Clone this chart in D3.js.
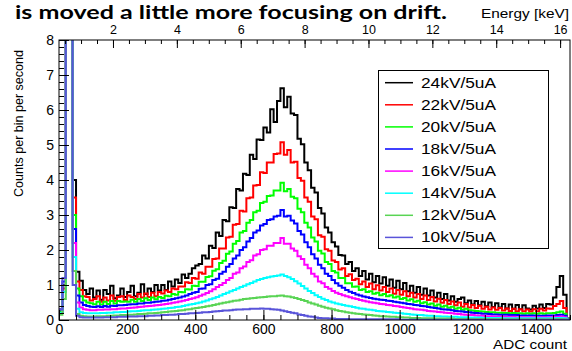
<!DOCTYPE html>
<html>
<head>
<meta charset="utf-8">
<script src="https://cdn.jsdelivr.net/npm/d3@7"></script>
<style>
  body { margin: 0; background: #fff; }
  svg { display: block; }
  text { font-family: "Liberation Sans", Arial, Helvetica, sans-serif; fill: #000; }
</style>
</head>
<body>
<svg id="chart" width="572" height="351"></svg>
<script>
// Spectra: counts per bin per second, 150 bins of 10 ADC counts from 0 to 1500.
const adcBinWidth = 10;

const counts24kV = [
  0.2, 1.0, 40, 40, 4.0, 1.38, 1.12, 0.86, 0.74, 0.9,
  0.64, 0.84, 0.58, 0.86, 0.74, 0.98, 0.62, 0.7, 0.9, 0.66,
  0.8, 0.98, 0.68, 0.78, 1.02, 0.74, 0.9, 0.8, 1.0, 0.84,
  1.0, 0.86, 1.1, 0.96, 1.16, 1.06, 1.3, 1.2, 1.32, 1.48,
  1.56, 1.6, 1.84, 1.76, 2.12, 2.06, 2.5, 2.4, 2.86, 2.82,
  3.22, 3.2, 3.74, 3.7, 4.18, 4.14, 4.72, 4.6, 5.16, 5.14,
  5.5, 5.36, 6.02, 5.66, 6.26, 6.62, 6.08, 6.38, 5.9, 5.86,
  5.18, 5.02, 4.5, 4.28, 3.78, 3.64, 3.2, 3.04, 2.64, 2.5,
  2.22, 2.1, 1.86, 1.84, 1.6, 1.66, 1.4, 1.48, 1.26, 1.4,
  1.16, 1.32, 1.08, 1.26, 1.04, 1.22, 0.98, 1.16, 0.92, 1.12,
  0.88, 1.06, 0.82, 0.98, 0.78, 0.94, 0.72, 0.9, 0.7, 0.84,
  0.64, 0.78, 0.6, 0.74, 0.56, 0.68, 0.52, 0.6, 0.64, 0.48,
  0.56, 0.44, 0.54, 0.42, 0.52, 0.39, 0.5, 0.37, 0.48, 0.36,
  0.46, 0.33, 0.44, 0.32, 0.43, 0.31, 0.42, 0.33, 0.3, 0.41,
  0.33, 0.44, 0.34, 0.46, 0.44, 0.64, 0.94, 1.26, 0.72, 0.04
];
const counts22kV = [
  0.3, 0.9, 40, 40, 3.5, 1.1, 0.86, 0.68, 0.66, 0.56,
  0.6, 0.68, 0.52, 0.64, 0.56, 0.7, 0.55, 0.66, 0.68, 0.57,
  0.7, 0.66, 0.6, 0.74, 0.64, 0.76, 0.66, 0.78, 0.68, 0.8,
  0.76, 0.84, 0.8, 0.9, 0.88, 0.96, 0.96, 1.08, 1.06, 1.2,
  1.18, 1.36, 1.32, 1.52, 1.52, 1.74, 1.76, 2.04, 2.04, 2.36,
  2.38, 2.72, 2.74, 3.12, 3.1, 3.48, 3.5, 3.84, 3.86, 4.22,
  4.2, 4.5, 4.5, 4.74, 4.76, 5.08, 4.72, 4.86, 4.5, 4.52,
  4.06, 3.98, 3.5, 3.38, 2.96, 2.88, 2.42, 2.38, 2.02, 1.98,
  1.7, 1.66, 1.44, 1.48, 1.26, 1.31, 1.14, 1.18, 1.02, 1.1,
  0.94, 1.04, 0.88, 0.99, 0.84, 0.94, 0.8, 0.9, 0.75, 0.86,
  0.72, 0.82, 0.68, 0.78, 0.64, 0.74, 0.6, 0.7, 0.57, 0.66,
  0.53, 0.61, 0.49, 0.57, 0.46, 0.53, 0.42, 0.5, 0.38, 0.46,
  0.36, 0.43, 0.34, 0.41, 0.32, 0.38, 0.3, 0.36, 0.29, 0.34,
  0.27, 0.33, 0.26, 0.32, 0.25, 0.31, 0.25, 0.3, 0.24, 0.31,
  0.25, 0.32, 0.27, 0.33, 0.32, 0.4, 0.46, 0.54, 0.34, 0.03
];
const counts20kV = [
  0.25, 0.8, 40, 40, 3.0, 0.9, 0.68, 0.56, 0.5, 0.48,
  0.45, 0.52, 0.44, 0.52, 0.46, 0.54, 0.47, 0.54, 0.52, 0.53,
  0.52, 0.58, 0.52, 0.6, 0.54, 0.62, 0.57, 0.64, 0.59, 0.66,
  0.63, 0.69, 0.68, 0.74, 0.72, 0.8, 0.79, 0.88, 0.87, 0.98,
  0.97, 1.09, 1.09, 1.23, 1.25, 1.41, 1.45, 1.63, 1.69, 1.89,
  1.96, 2.18, 2.26, 2.5, 2.54, 2.78, 2.86, 3.08, 3.12, 3.34,
  3.38, 3.54, 3.56, 3.7, 3.7, 3.92, 3.68, 3.74, 3.52, 3.48,
  3.18, 3.08, 2.78, 2.64, 2.36, 2.24, 1.98, 1.9, 1.66, 1.6,
  1.4, 1.36, 1.2, 1.2, 1.05, 1.05, 0.95, 0.96, 0.86, 0.88,
  0.8, 0.82, 0.75, 0.78, 0.71, 0.74, 0.68, 0.71, 0.64, 0.67,
  0.6, 0.63, 0.56, 0.59, 0.52, 0.55, 0.48, 0.51, 0.44, 0.47,
  0.41, 0.44, 0.38, 0.41, 0.35, 0.38, 0.32, 0.35, 0.29, 0.32,
  0.28, 0.27, 0.26, 0.25, 0.24, 0.23, 0.22, 0.22, 0.21, 0.21,
  0.2, 0.2, 0.19, 0.2, 0.19, 0.19, 0.18, 0.19, 0.18, 0.19,
  0.18, 0.19, 0.18, 0.19, 0.19, 0.2, 0.22, 0.24, 0.18, 0.02
];
const counts18kV = [
  0.3, 1.1, 40, 40, 2.6, 0.7, 0.5, 0.43, 0.4, 0.38,
  0.37, 0.39, 0.37, 0.4, 0.38, 0.41, 0.4, 0.42, 0.42, 0.43,
  0.44, 0.45, 0.45, 0.47, 0.47, 0.49, 0.49, 0.51, 0.52, 0.53,
  0.55, 0.56, 0.58, 0.6, 0.62, 0.64, 0.67, 0.7, 0.74, 0.78,
  0.8, 0.89, 0.9, 1.0, 1.02, 1.14, 1.18, 1.32, 1.38, 1.52,
  1.6, 1.76, 1.84, 2.0, 2.08, 2.24, 2.34, 2.5, 2.56, 2.7,
  2.74, 2.86, 2.88, 2.96, 2.98, 3.14, 2.96, 2.98, 2.84, 2.76,
  2.54, 2.44, 2.22, 2.08, 1.88, 1.76, 1.58, 1.48, 1.32, 1.26,
  1.14, 1.05, 0.98, 0.92, 0.86, 0.81, 0.77, 0.73, 0.7, 0.67,
  0.65, 0.63, 0.61, 0.59, 0.58, 0.57, 0.55, 0.54, 0.52, 0.51,
  0.49, 0.48, 0.46, 0.45, 0.43, 0.42, 0.4, 0.39, 0.37, 0.36,
  0.34, 0.33, 0.31, 0.3, 0.29, 0.28, 0.26, 0.25, 0.24, 0.23,
  0.22, 0.21, 0.2, 0.19, 0.18, 0.18, 0.17, 0.16, 0.16, 0.15,
  0.15, 0.15, 0.14, 0.14, 0.14, 0.13, 0.13, 0.13, 0.13, 0.13,
  0.12, 0.12, 0.12, 0.13, 0.13, 0.13, 0.14, 0.15, 0.12, 0.02
];
const counts16kV = [
  0.2, 0.8, 40, 40, 2.2, 0.5, 0.36, 0.31, 0.29, 0.28,
  0.28, 0.29, 0.29, 0.3, 0.3, 0.31, 0.31, 0.32, 0.33, 0.33,
  0.34, 0.35, 0.36, 0.37, 0.38, 0.39, 0.4, 0.41, 0.42, 0.43,
  0.44, 0.46, 0.47, 0.49, 0.51, 0.53, 0.55, 0.57, 0.6, 0.62,
  0.65, 0.69, 0.73, 0.77, 0.82, 0.88, 0.94, 1.0, 1.06, 1.14,
  1.2, 1.32, 1.36, 1.48, 1.53, 1.66, 1.71, 1.84, 1.88, 2.0,
  2.02, 2.12, 2.12, 2.2, 2.2, 2.34, 2.18, 2.18, 2.04, 1.98,
  1.82, 1.74, 1.58, 1.48, 1.32, 1.24, 1.1, 1.05, 0.94, 0.89,
  0.83, 0.78, 0.74, 0.71, 0.68, 0.65, 0.62, 0.6, 0.57, 0.55,
  0.53, 0.51, 0.49, 0.48, 0.46, 0.45, 0.43, 0.42, 0.4, 0.39,
  0.37, 0.36, 0.34, 0.33, 0.31, 0.3, 0.29, 0.28, 0.26, 0.25,
  0.24, 0.23, 0.22, 0.21, 0.2, 0.19, 0.18, 0.17, 0.16, 0.15,
  0.14, 0.14, 0.13, 0.12, 0.12, 0.11, 0.11, 0.1, 0.1, 0.1,
  0.09, 0.09, 0.09, 0.09, 0.08, 0.08, 0.08, 0.08, 0.08, 0.08,
  0.08, 0.08, 0.08, 0.08, 0.08, 0.09, 0.09, 0.1, 0.08, 0.01
];
const counts14kV = [
  0.2, 0.8, 40, 40, 1.8, 0.32, 0.22, 0.2, 0.19, 0.19,
  0.19, 0.19, 0.2, 0.2, 0.21, 0.21, 0.22, 0.22, 0.23, 0.23,
  0.24, 0.25, 0.25, 0.26, 0.27, 0.28, 0.28, 0.29, 0.3, 0.31,
  0.32, 0.33, 0.34, 0.35, 0.37, 0.38, 0.4, 0.42, 0.44, 0.46,
  0.48, 0.5, 0.53, 0.56, 0.59, 0.62, 0.66, 0.7, 0.74, 0.78,
  0.82, 0.86, 0.9, 0.94, 0.98, 1.02, 1.06, 1.1, 1.14, 1.17,
  1.2, 1.22, 1.24, 1.26, 1.27, 1.3, 1.26, 1.22, 1.17, 1.11,
  1.04, 0.97, 0.9, 0.83, 0.77, 0.71, 0.66, 0.61, 0.57, 0.53,
  0.5, 0.47, 0.45, 0.43, 0.41, 0.39, 0.37, 0.35, 0.33, 0.32,
  0.3, 0.29, 0.28, 0.26, 0.25, 0.24, 0.23, 0.22, 0.21, 0.2,
  0.19, 0.18, 0.17, 0.16, 0.15, 0.14, 0.14, 0.13, 0.12, 0.12,
  0.11, 0.11, 0.1, 0.1, 0.09, 0.09, 0.09, 0.08, 0.08, 0.08,
  0.07, 0.07, 0.07, 0.07, 0.06, 0.06, 0.06, 0.06, 0.06, 0.06,
  0.05, 0.05, 0.05, 0.05, 0.05, 0.05, 0.05, 0.05, 0.05, 0.05,
  0.05, 0.05, 0.05, 0.05, 0.05, 0.05, 0.06, 0.06, 0.05, 0.01
];
const counts12kV = [
  0.15, 0.6, 40, 40, 1.4, 0.17, 0.12, 0.11, 0.1, 0.1,
  0.1, 0.11, 0.11, 0.11, 0.12, 0.12, 0.13, 0.13, 0.14, 0.14,
  0.15, 0.15, 0.16, 0.17, 0.17, 0.18, 0.19, 0.19, 0.2, 0.21,
  0.22, 0.23, 0.24, 0.25, 0.26, 0.27, 0.28, 0.3, 0.31, 0.33,
  0.34, 0.36, 0.37, 0.39, 0.41, 0.43, 0.45, 0.47, 0.49, 0.51,
  0.53, 0.55, 0.56, 0.58, 0.6, 0.61, 0.62, 0.63, 0.64, 0.65,
  0.66, 0.67, 0.68, 0.68, 0.69, 0.7, 0.68, 0.67, 0.65, 0.63,
  0.6, 0.57, 0.54, 0.5, 0.47, 0.44, 0.41, 0.38, 0.35, 0.33,
  0.31, 0.28, 0.26, 0.24, 0.22, 0.21, 0.19, 0.18, 0.17, 0.16,
  0.15, 0.14, 0.13, 0.12, 0.11, 0.11, 0.1, 0.09, 0.09, 0.08,
  0.08, 0.07, 0.07, 0.06, 0.06, 0.06, 0.05, 0.05, 0.05, 0.05,
  0.04, 0.04, 0.04, 0.04, 0.04, 0.04, 0.03, 0.03, 0.03, 0.03,
  0.03, 0.03, 0.03, 0.03, 0.03, 0.03, 0.03, 0.03, 0.03, 0.03,
  0.02, 0.02, 0.02, 0.02, 0.02, 0.02, 0.02, 0.02, 0.02, 0.02,
  0.02, 0.02, 0.02, 0.02, 0.02, 0.02, 0.03, 0.03, 0.02, 0.01
];
const counts10kV = [
  0.3, 1.2, 40, 40, 1.0, 0.12, 0.08, 0.07, 0.07, 0.07,
  0.07, 0.07, 0.07, 0.08, 0.08, 0.08, 0.08, 0.09, 0.09, 0.09,
  0.1, 0.1, 0.1, 0.11, 0.11, 0.11, 0.12, 0.12, 0.13, 0.13,
  0.14, 0.14, 0.15, 0.15, 0.16, 0.17, 0.17, 0.18, 0.19, 0.19,
  0.2, 0.21, 0.22, 0.22, 0.23, 0.24, 0.25, 0.26, 0.27, 0.27,
  0.28, 0.29, 0.3, 0.3, 0.31, 0.31, 0.32, 0.32, 0.32, 0.33,
  0.32, 0.32, 0.31, 0.3, 0.29, 0.27, 0.25, 0.23, 0.21, 0.19,
  0.16, 0.14, 0.12, 0.1, 0.09, 0.07, 0.06, 0.05, 0.05, 0.04,
  0.04, 0.03, 0.03, 0.03, 0.03, 0.02, 0.02, 0.02, 0.02, 0.02,
  0.02, 0.02, 0.02, 0.02, 0.02, 0.02, 0.02, 0.02, 0.02, 0.02,
  0.01, 0.01, 0.01, 0.01, 0.01, 0.01, 0.01, 0.01, 0.01, 0.01,
  0.01, 0.01, 0.01, 0.01, 0.01, 0.01, 0.01, 0.01, 0.01, 0.01,
  0.01, 0.01, 0.01, 0.01, 0.01, 0.01, 0.01, 0.01, 0.01, 0.01,
  0.01, 0.01, 0.01, 0.01, 0.01, 0.01, 0.01, 0.01, 0.01, 0.01,
  0.01, 0.01, 0.01, 0.01, 0.01, 0.01, 0.01, 0.01, 0.01, 0.0
];

const seriesLabels = ["24kV/5uA", "22kV/5uA", "20kV/5uA", "18kV/5uA",
                      "16kV/5uA", "14kV/5uA", "12kV/5uA", "10kV/5uA"];
const seriesCounts = [counts24kV, counts22kV, counts20kV, counts18kV,
                      counts16kV, counts14kV, counts12kV, counts10kV];

const adcTicks = [0, 200, 400, 600, 800, 1000, 1200, 1400];
const adcMinorTicks = d3.range(0, 1501, 50);
const energyTicks = [2, 4, 6, 8, 10, 12, 14, 16];
const energyMinorTicks = d3.range(0.5, 16.31, 0.5);
const countTicks = [0, 1, 2, 3, 4, 5, 6, 7, 8];
const countMinorTicks = d3.range(0, 8.01, 0.2);

// Energy calibration shown on the top axis, keV at the two ends of the ADC range
const energyRange = [0.31, 16.31];

// ---- styles ----
const lineColors = ["#000000", "#ff0000", "#00ff00", "#0000ff",
                    "#ff00ff", "#00ffff", "#59d454", "#5954d9"];
const frame = { left: 59, right: 570, top: 40, bottom: 320 };

const svg = d3.select("#chart");

const x = d3.scaleLinear().domain([0, 1500]).range([frame.left, frame.right]);
const xE = d3.scaleLinear().domain(energyRange).range([frame.left, frame.right]);
const y = d3.scaleLinear().domain([0, 8]).range([frame.bottom, frame.top]);

// Title line above the frame
svg.append("text")
  .attr("x", 15).attr("y", 19)
  .attr("textLength", 432).attr("lengthAdjust", "spacingAndGlyphs")
  .style("font-family", "Lato, 'Open Sans', sans-serif")
  .style("font-weight", "bold").style("font-size", "19px")
  .text("is moved a little more focusing on drift.");

svg.append("rect")
  .attr("x", frame.left).attr("y", frame.top)
  .attr("width", frame.right - frame.left).attr("height", frame.bottom - frame.top)
  .attr("fill", "#fff");

svg.append("clipPath").attr("id", "plotClip")
  .append("rect")
  .attr("x", frame.left).attr("y", frame.top)
  .attr("width", frame.right - frame.left).attr("height", frame.bottom - frame.top);

// Histograms drawn as step outlines
const stepLine = d3.line()
  .x(d => x(d[0]))
  .y(d => y(d[1]))
  .curve(d3.curveStepAfter);

const plot = svg.append("g").attr("clip-path", "url(#plotClip)");
seriesCounts.forEach((vals, k) => {
  const pts = vals.map((v, i) => [i * adcBinWidth, v]);
  pts.push([vals.length * adcBinWidth, vals[vals.length - 1]]);
  plot.append("path")
    .attr("d", stepLine(pts))
    .attr("fill", "none")
    .attr("stroke", lineColors[k])
    .attr("stroke-width", 2)
    .attr("stroke-linejoin", "miter");
});

function styleAxis(g, size) {
  g.select(".domain").remove();
  g.selectAll(".tick line").attr("stroke", "#000").attr("stroke-width", 1);
  g.selectAll(".tick text")
    .style("font-family", "'Liberation Sans', Arial, sans-serif")
    .style("font-size", size + "px").attr("fill", "#000");
}

// Bottom ADC axis (ticks point into the frame)
svg.append("g").attr("transform", `translate(0,${frame.bottom})`)
  .call(d3.axisBottom(x).tickValues(adcMinorTicks).tickFormat("").tickSize(-5))
  .call(g => styleAxis(g, 14));
svg.append("g").attr("transform", `translate(0,${frame.bottom})`)
  .call(d3.axisBottom(x).tickValues(adcTicks).tickFormat(d3.format("d")).tickSize(-10).tickPadding(4))
  .call(g => styleAxis(g, 14));

// Left counts axis
svg.append("g").attr("transform", `translate(${frame.left},0)`)
  .call(d3.axisLeft(y).tickValues(countMinorTicks).tickFormat("").tickSize(-5))
  .call(g => styleAxis(g, 14));
svg.append("g").attr("transform", `translate(${frame.left},0)`)
  .call(d3.axisLeft(y).tickValues(countTicks).tickFormat(d3.format("d")).tickSize(-10).tickPadding(5))
  .call(g => styleAxis(g, 14));

// Top energy axis
svg.append("g").attr("transform", `translate(0,${frame.top})`)
  .call(d3.axisTop(xE).tickValues(energyMinorTicks).tickFormat("").tickSize(-4))
  .call(g => styleAxis(g, 12.5));
svg.append("g").attr("transform", `translate(0,${frame.top})`)
  .call(d3.axisTop(xE).tickValues(energyTicks).tickFormat(d3.format("d")).tickSize(-8).tickPadding(6))
  .call(g => styleAxis(g, 12.5));

// Frame
svg.append("rect")
  .attr("x", frame.left).attr("y", frame.top)
  .attr("width", frame.right - frame.left).attr("height", frame.bottom - frame.top)
  .attr("fill", "none").attr("stroke", "#000").attr("stroke-width", 1);

// Axis titles
svg.append("text")
  .attr("x", 481).attr("y", 18)
  .attr("textLength", 88).attr("lengthAdjust", "spacingAndGlyphs")
  .style("font-size", "12.5px")
  .text("Energy [keV]");

svg.append("text")
  .attr("x", 493).attr("y", 349)
  .attr("textLength", 74).attr("lengthAdjust", "spacingAndGlyphs")
  .style("font-size", "13px")
  .text("ADC count");

svg.append("text")
  .attr("transform", "translate(22.5,123.5) rotate(-90)")
  .attr("text-anchor", "middle")
  .attr("textLength", 147).attr("lengthAdjust", "spacingAndGlyphs")
  .style("font-size", "12.5px")
  .text("Counts per bin per second");

// Legend
const legend = svg.append("g");
legend.append("rect")
  .attr("x", 378.5).attr("y", 70.5).attr("width", 170).attr("height", 178)
  .attr("fill", "#fff").attr("stroke", "#000").attr("stroke-width", 1);
seriesLabels.forEach((lab, k) => {
  const cy = 82.7 + k * 22.1;
  legend.append("line")
    .attr("x1", 385).attr("x2", 413).attr("y1", cy).attr("y2", cy)
    .attr("stroke", lineColors[k]).attr("stroke-width", 1.5);
  legend.append("text")
    .attr("x", 421).attr("y", cy + 5)
    .attr("textLength", 75).attr("lengthAdjust", "spacingAndGlyphs")
    .style("font-size", "14px")
    .text(lab);
});
</script>
</body>
</html>
